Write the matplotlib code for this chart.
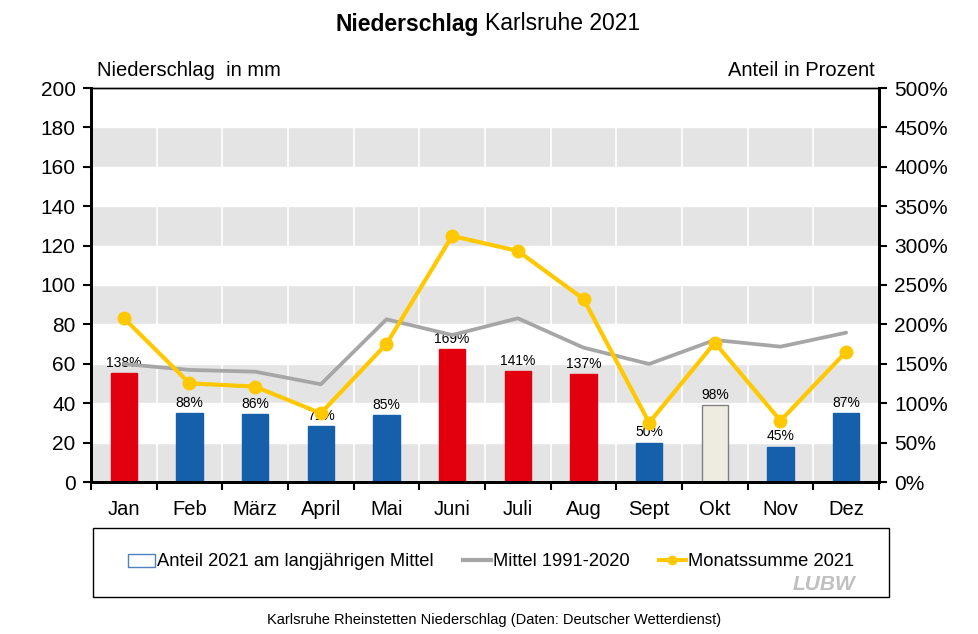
import matplotlib.pyplot as plt
import numpy as np
from matplotlib.patches import Rectangle, Patch
from matplotlib.lines import Line2D

plt.rcParams['font.family'] = ['Liberation Sans', 'DejaVu Sans']

monate = ['Jan', 'Feb', 'März', 'April', 'Mai', 'Juni', 'Juli', 'Aug', 'Sept', 'Okt', 'Nov', 'Dez']
summe_2021 = [83.2, 50.1, 48.4, 34.9, 70.1, 124.9, 117.3, 92.9, 30.1, 70.7, 31.1, 66.1]
mittel_9120 = [59.9, 56.9, 56.0, 49.6, 82.6, 74.6, 83.1, 68.2, 59.9, 72.1, 68.7, 75.8]
anteil = [138, 88, 86, 71, 85, 169, 141, 137, 50, 98, 45, 87]

rot = '#E2000F'
blau = '#155FAB'
beige = '#EEEBE0'
gelb = '#FFC800'
grau = '#A6A6A6'
band = '#E4E4E4'

def balkenfarbe(p):
    if p > 110:
        return rot
    if p < 90:
        return blau
    return beige

fig = plt.figure(figsize=(9.79, 6.34), dpi=100)
ax = fig.add_axes([91/979, 1-482/634, 788/979, 394/634])
ax2 = ax.twinx()
ax.set_zorder(2)
ax2.set_zorder(1)
ax.patch.set_visible(False)
ax2.patch.set_visible(True)
ax2.patch.set_facecolor('white')

x = np.arange(len(monate))

# graue Baender im Hintergrund (auf Prozentachse, 50% = 20 mm)
for lo in range(0, 500, 100):
    ax2.axhspan(lo, lo + 50, color=band, lw=0, zorder=0)
for lo in range(50, 500, 50):
    ax2.axhline(lo, color='white', lw=1, zorder=0.5)
for b in np.arange(0.5, 11.5, 1):
    ax2.axvline(b, color='white', lw=1.2, zorder=0.5)

farben = [balkenfarbe(p) for p in anteil]
kanten = ['#808080' if f == beige else f for f in farben]
ax2.bar(x, anteil, width=0.4, color=farben, edgecolor=kanten, linewidth=1, zorder=2)
for xi, p in zip(x, anteil):
    ax2.text(xi, p + 4, f'{p}%', ha='center', va='bottom', fontsize=10, zorder=3)

ax.plot(x, mittel_9120, color=grau, lw=2.7, solid_capstyle='round', zorder=3)
ax.plot(x, summe_2021, color=gelb, lw=3, marker='o', markersize=9, zorder=4)

ax.set_xlim(-0.5, 11.5)
ax.set_ylim(0, 200)
ax2.set_ylim(0, 500)
ax.set_yticks(np.arange(0, 201, 20))
ax2.set_yticks(np.arange(0, 501, 50))
ax2.set_yticklabels([f'{v}%' for v in range(0, 501, 50)])

ax.set_xticks(np.arange(-0.5, 12, 1))
ax.set_xticklabels([])
ax.set_xticks(x, minor=True)
ax.set_xticklabels(monate, minor=True)
ax.tick_params(axis='x', which='major', length=6, width=1.5, direction='out')
ax.tick_params(axis='x', which='minor', length=0, pad=13, labelsize=14.5)
ax.tick_params(axis='y', length=6, width=1.5, labelsize=15, pad=5)
ax2.tick_params(axis='y', length=6, width=1.5, labelsize=15, pad=5)

for a in (ax, ax2):
    a.spines['left'].set_linewidth(2)
    a.spines['right'].set_linewidth(2)
    a.spines['bottom'].set_linewidth(2)
    a.spines['top'].set_linewidth(1)

fig.text(97/979, 1-70/634, 'Niederschlag  in mm', fontsize=14.5, va='center', ha='left')
fig.text(875/979, 1-70/634, 'Anteil in Prozent', fontsize=14.5, va='center', ha='right')

fig.text(479/979, 1-24/634, 'Niederschlag', fontsize=16.5, fontweight='bold', ha='right', va='center')
fig.text(485/979, 1-24/634, 'Karlsruhe 2021', fontsize=16.5, ha='left', va='center')

# Legende mit eigenem Rahmen
fig.patches.append(Rectangle((93/979, 1-597/634), 796/979, 69/634, transform=fig.transFigure,
                             fill=False, edgecolor='black', lw=1))
handles = [Patch(facecolor='white', edgecolor='#4F81BD', lw=1),
           Line2D([], [], color=grau, lw=3),
           Line2D([], [], color=gelb, lw=3, marker='o', markersize=6)]
labels = ['Anteil 2021 am langjährigen Mittel', 'Mittel 1991-2020', 'Monatssumme 2021']
fig.legend(handles, labels, loc='center', bbox_to_anchor=(491/979, 1-562/634), ncol=3,
           frameon=False, fontsize=13.2, handlelength=1.5, handletextpad=0.1, columnspacing=1.6)
fig.text(855/979, 1-584/634, 'LUBW', fontsize=15, fontweight='bold', style='italic',
         color='#C0C0C0', ha='right', va='center')

fig.text(494/979, 1-620/634, 'Karlsruhe Rheinstetten Niederschlag (Daten: Deutscher Wetterdienst)',
         fontsize=10.5, ha='center', va='center')

fig.savefig('out.png', dpi=100)
